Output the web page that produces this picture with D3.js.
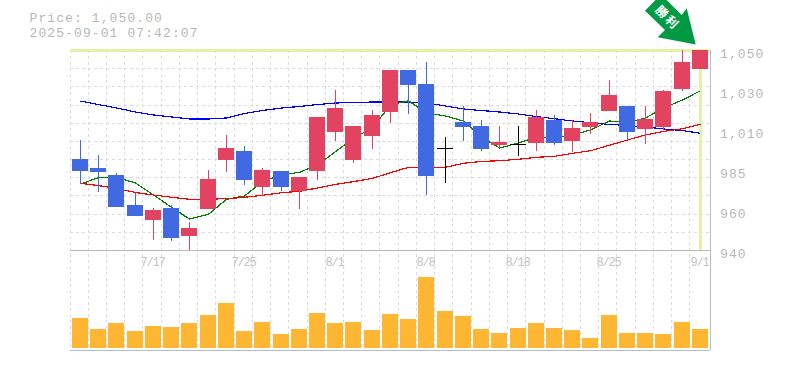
<!DOCTYPE html>
<html>
<head>
<meta charset="utf-8">
<script src="https://cdn.jsdelivr.net/npm/d3@7"></script>
<style>
  body { margin: 0; background: #fff; }
  text { font-family: "Liberation Mono", monospace; fill: #b8b8b8; }
  .labels { opacity: 0.99; }
</style>
</head>
<body>
<div id="chart"></div>
<script>
// trading days shown on the chart
var dates = ["7/11","7/14","7/15","7/16","7/17","7/18","7/22","7/23","7/24","7/25",
  "7/28","7/29","7/30","7/31","8/1","8/4","8/5","8/6","8/7","8/8",
  "8/12","8/13","8/14","8/15","8/18","8/19","8/20","8/21","8/22","8/25",
  "8/26","8/27","8/28","8/29","9/1"];
var opens = [990,985,981,965,956.5,963,947.5,962.5,989.5,994.5,974.5,983.5,972.5,983.5,1005,989.5,1002.5,1016,1039,1031.5,
  996,1010.5,1008,997.5,998.5,999,1011.5,1000,1007.5,1016.5,1019,1006.5,1007.5,1028.5,1039.5];
var highs = [1000.5,992,982.5,971.5,963,965,955.5,984,1003,997,985,983.5,980,1013,1028,1008,1017,1039,1039,1043.5,
  1002,1019,1011.5,1008,1008,1017,1014,1011.5,1015.5,1033.5,1019,1019,1028,1050,1050];
var lows = [976.5,972,963.5,958.5,945.5,945,940,962.5,983,976,969.5,972.5,962.5,978.5,1000,988,995.5,1010,1015,970,
  977,1000,994.5,996,991.5,994.5,998,994,1004,1016.5,1000.5,998.5,1006,1027.5,1039.5];
var closes = [983.5,983,963.5,958.5,962,946.5,952,979,996,978.5,984,974.5,980,1013,1018,1008,1014,1039,1031,980.5,
  996,1007.5,995.5,999.5,998.5,1013,999,1007,1010.5,1025,1005,1012,1027.5,1043.5,1050];
var ma5 = [976.3,979.8,980,976.85,970.25,963.5,957,959.65,967.9,969.7,977.6,981.25,982.75,986.75,994.1,1001.6,1007.1,1019.75,1022.1,1015.35,
  1013.7,1010.95,1002.15,996.1,998.85,1002.15,1002,1003.25,1006,1010.95,1010,1012.6,1018.1,1022.5,1027.6];
var ma25 = [976.7,975.4,973.9,971.6,970.25,969,967.9,968,968.2,969,970.1,971.5,972.3,974.1,976.1,977.6,979.4,982.5,985.5,985.1,
  985.5,987.7,988.7,989.1,989.9,991,991.5,993.2,994.6,997.6,1000.5,1003.25,1005.2,1006.7,1009.1];
var ma75 = [1021.95,1020,1018.1,1015.9,1014.25,1013.15,1012.05,1012.05,1012.6,1015.1,1016.75,1018.1,1018.9,1020,1020.85,1021.1,1021.4,1021.4,1021.4,1020.85,
  1019.2,1017.55,1016.7,1015.9,1014.8,1013.4,1012.2,1010.95,1010,1009.1,1008.5,1007.65,1006.55,1005.7,1004.2];
var volumes = [30,19,25,17,22,21,25,33,45,17,26,14,19,35,25,26,18,34,29,71,37,32,19,15,20,25,20,18,10,33,15,15,14,26,19];
var dateLabels = ["7/17","7/25","8/1","8/8","8/18","8/25","9/1"];
var priceTicks = [1050,1028,1006,984,962,940];
var priceTickLabels = ["1,050","1,030","1,010","985","960","940"];
var priceGrid = [1040,1030,1020,1010,1000,990,980,970,960,950];
var arrowText = ["勝","利"];

var width = 785, height = 370;
var left = 70, right = 710, top0 = 50, mid = 250, bottom = 350;

var svg = d3.select("#chart").append("svg")
  .attr("width", width)
  .attr("height", height)
  .style("display", "block");

var x = d3.scaleBand().domain(dates).range([70.05, 708.1]);
var y = d3.scaleLinear().domain([940, 1050]).range([mid, top0]);
var yVol = d3.scaleLinear().domain([0, 100]).range([348, 248]);

function snap(d) { return Math.floor(x(d)) + 0.5; }
function bodyLeft(d) { return Math.floor(x(d) + 2.45); }

// grid
var grid = svg.append("g").attr("stroke", "#ddd").attr("stroke-dasharray", "3,3").attr("shape-rendering", "crispEdges");
grid.selectAll(".v").data(dates).enter().append("line")
  .attr("x1", snap).attr("x2", snap)
  .attr("y1", top0).attr("y2", bottom);
grid.selectAll(".h").data(priceGrid).enter().append("line")
  .attr("x1", left).attr("x2", right)
  .attr("y1", function(d) { return Math.round(y(d)) + 0.5; })
  .attr("y2", function(d) { return Math.round(y(d)) + 0.5; });

// frame lines
var frame = svg.append("g").attr("stroke", "#bbb").attr("stroke-width", 1).attr("shape-rendering", "crispEdges");
frame.append("line").attr("x1", left).attr("x2", right).attr("y1", mid + 0.5).attr("y2", mid + 0.5);
frame.append("line").attr("x1", left).attr("x2", right).attr("y1", bottom + 0.5).attr("y2", bottom + 0.5);
frame.append("line").attr("x1", right + 0.5).attr("x2", right + 0.5).attr("y1", top0).attr("y2", bottom);

// current price / date markers
var lastDate = dates[dates.length - 1];
var marker = svg.append("g").attr("fill", "#e3f2a6").attr("shape-rendering", "crispEdges");
marker.append("rect").attr("x", left).attr("y", y(1050) - 1).attr("width", right - left).attr("height", 3);
marker.append("rect").attr("x", bodyLeft(lastDate) + 7).attr("y", top0).attr("width", 3).attr("height", mid - top0);

// moving averages
var line = d3.line()
  .x(function(d, i) { return bodyLeft(dates[i]) + 8.5; })
  .y(function(d) { return y(d); });
var maSeries = [[ma75, "#0000ff"], [ma5, "#008000"], [ma25, "#ff0000"]];
svg.selectAll(".ma").data(maSeries).enter().append("path")
  .attr("d", function(d) { return line(d[0]); })
  .attr("fill", "none")
  .attr("stroke", function(d) { return d[1]; })
  .attr("stroke-width", 1.2)
  .attr("shape-rendering", "crispEdges");

// candles
function candleColor(i) {
  if (closes[i] > opens[i]) return "#e24360";
  if (closes[i] < opens[i]) return "#4169e1";
  return "#000";
}
var candles = svg.selectAll(".candle").data(dates).enter().append("g")
  .attr("shape-rendering", "crispEdges");
candles.append("rect")
  .attr("x", function(d) { return bodyLeft(d) + 8; })
  .attr("width", 1)
  .attr("y", function(d, i) { return y(highs[i]); })
  .attr("height", function(d, i) { return y(lows[i]) - y(highs[i]); })
  .attr("fill", function(d, i) { return candleColor(i); });
candles.append("rect")
  .attr("x", bodyLeft)
  .attr("width", 16)
  .attr("y", function(d, i) { return y(Math.max(opens[i], closes[i])); })
  .attr("height", function(d, i) { return Math.max(1, Math.abs(y(opens[i]) - y(closes[i]))); })
  .attr("fill", function(d, i) { return candleColor(i); });

// volume
svg.selectAll(".vol").data(volumes).enter().append("rect")
  .attr("x", function(d, i) { return bodyLeft(dates[i]); })
  .attr("width", 16)
  .attr("y", function(d) { return yVol(d); })
  .attr("height", function(d) { return yVol(0) - yVol(d); })
  .attr("fill", "#ffb733")
  .attr("shape-rendering", "crispEdges");

var labels = svg.append("g").attr("class", "labels");

// date labels
labels.selectAll(".dl").data(dateLabels).enter().append("text")
  .attr("x", function(d) { return bodyLeft(d) + 7.5; })
  .attr("y", 266)
  .attr("text-anchor", "middle")
  .style("font-size", "12px")
  .style("letter-spacing", "-1.2px")
  .style("fill", "#c4c4c4")
  .text(function(d) { return d; });

// price labels
labels.selectAll(".pl").data(priceTicks).enter().append("text")
  .attr("x", 720)
  .attr("y", function(d) { return y(d) + 7.5; })
  .style("font-size", "13px")
  .style("letter-spacing", "1.1px")
  .text(function(d, i) { return priceTickLabels[i]; });

// header
labels.append("text").attr("x", 29.5).attr("y", 22).style("font-size", "13px").style("letter-spacing", "1.1px").text("Price: 1,050.00");
labels.append("text").attr("x", 29.5).attr("y", 37).style("font-size", "13px").style("letter-spacing", "1.1px").text("2025-09-01 07:42:07");

// arrow
var arrow = svg.append("g");
arrow.append("path")
  .attr("d", "M695.7,44.5 L657.7,37.3 L665,30 L645,10.7 L661,-5.5 L681.7,15 L686.7,8.3 Z")
  .attr("fill", "#009944");
arrow.selectAll("text").data(arrowText).enter().append("text")
  .attr("transform", function(d, i) { return "translate(" + (662 + i * 10) + "," + (11.7 + i * 10) + ") rotate(45)"; })
  .attr("text-anchor", "middle")
  .attr("dy", "0.38em")
  .style("font-family", "'Noto Sans CJK JP'")
  .style("font-weight", "bold")
  .style("font-size", "12px")
  .style("fill", "#fff")
  .text(function(d) { return d; });
</script>
</body>
</html>
